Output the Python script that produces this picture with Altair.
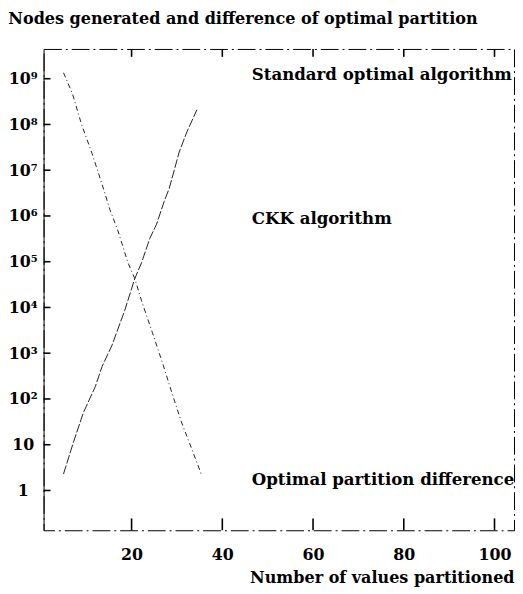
import altair as alt
import pandas as pd

# ---- data ----
n_diff = [5, 7, 9, 11.3, 13.5, 15.2, 17, 19.2, 20.7, 22.2, 24.6, 26.8, 29, 30.9, 33.1, 35.5]
diff_vals = [1.35e9, 4.6e8, 9.8e7, 2.3e7, 4.9e6, 1.4e6, 4.7e5, 9.5e4, 4.3e4, 1.4e4,
             2.8e3, 620, 126, 33, 8.9, 2.1]
n_ckk = [5, 7.2, 9.4, 12, 13.5, 15.7, 18.5, 20.7, 22.2, 24, 25.5, 27.2, 28.3, 30.5, 32.2, 34.4]
ckk_vals = [2.3, 11.5, 51, 186, 513, 1510, 8700, 42600, 95500, 3.2e5, 6.6e5, 2.1e6,
            4.0e6, 2.5e7, 6.9e7, 2.1e8]

x_ticks = [20, 40, 60, 80, 100]
y_ticks = [1, 10, 1e2, 1e3, 1e4, 1e5, 1e6, 1e7, 1e8, 1e9]
y_tick_labels = ["1", "10", "10²", "10³", "10⁴", "10⁵", "10⁶", "10⁷", "10⁸", "10⁹"]

label_texts = ["Standard optimal algorithm", "CKK algorithm", "Optimal partition difference"]
label_x = [46.5, 46.5, 46.5]
label_y = [1.2e9, 8.5e5, 1.65]

title_text = "Nodes generated and difference of optimal partition"
x_title = "Number of values partitioned"

FONT = "DejaVu Serif"
W, H = 476, 487

diff_df = pd.DataFrame({"n": n_diff, "v": diff_vals})
ckk_df = pd.DataFrame({"n": n_ckk, "v": ckk_vals})
xt_df = pd.DataFrame({"n": x_ticks})
yt_df = pd.DataFrame({"v": y_ticks})
lab_df = pd.DataFrame({"t": label_texts, "n": label_x, "v": label_y})

xs = alt.Scale(domain=[0.6, 104.3], nice=False, zero=False)
ys = alt.Scale(type="log", domain=[0.135, 4.47e9], nice=False)

label_expr = "[" + ",".join("'" + s + "'" for s in y_tick_labels) + "][round(log(datum.value)/LN10)]"

base_x = alt.X("n:Q", scale=xs, axis=alt.Axis(
    values=x_ticks, ticks=False, domain=False, grid=False,
    labelFont=FONT, labelFontSize=16, labelFontWeight="bold", labelColor="black",
    labelPadding=17, title=x_title, titleFont=FONT, titleFontSize=16.2,
    titleFontWeight="bold", titleColor="black", titleAnchor="end", titlePadding=7,
))
base_y = alt.Y("v:Q", scale=ys, axis=alt.Axis(
    values=y_ticks, labelExpr=label_expr, ticks=False, domain=True,
    domainColor="black", domainWidth=1, grid=False,
    labelFont=FONT, labelFontSize=16, labelFontWeight="bold", labelColor="black",
    labelAlign="center", labelPadding=21, minExtent=33, maxExtent=33, title=None,
))
plain_x = alt.X("n:Q", scale=xs)
plain_y = alt.Y("v:Q", scale=ys)

diff_line = alt.Chart(diff_df).mark_line(
    color="#222", strokeWidth=1, strokeDash=[5, 3, 1, 3]
).encode(x=base_x, y=base_y)

ckk_line = alt.Chart(ckk_df).mark_line(
    color="#222", strokeWidth=1, strokeDash=[9, 2]
).encode(x=plain_x, y=plain_y)

# inward ticks
bottom_ticks = alt.Chart(xt_df).mark_rule(color="black", strokeWidth=1.6).encode(
    x=plain_x, y=alt.value(H), y2=alt.value(H - 12))
top_ticks = alt.Chart(xt_df).mark_rule(color="black", strokeWidth=1.6).encode(
    x=plain_x, y=alt.value(0), y2=alt.value(8))
left_ticks = alt.Chart(yt_df).mark_rule(color="black", strokeWidth=1.6).encode(
    y=plain_y, x=alt.value(0), x2=alt.value(7))

labels = alt.Chart(lab_df).mark_text(
    font=FONT, fontSize=16.8, fontWeight="bold", color="black", align="left", baseline="middle"
).encode(x=plain_x, y=plain_y, text="t:N")

chart = alt.layer(diff_line, ckk_line, bottom_ticks, top_ticks, left_ticks, labels).properties(
    width=W, height=H, padding=0, background="white",
    title=alt.TitleParams(title_text, anchor="start", frame="bounds", font=FONT,
                          fontSize=16.2, fontWeight="bold", color="black", offset=21),
).configure_view(
    stroke="black", strokeWidth=1, strokeDash=[18, 4, 2, 4]
)

chart.save("out.html", embed_options={"renderer": "svg", "actions": False})
